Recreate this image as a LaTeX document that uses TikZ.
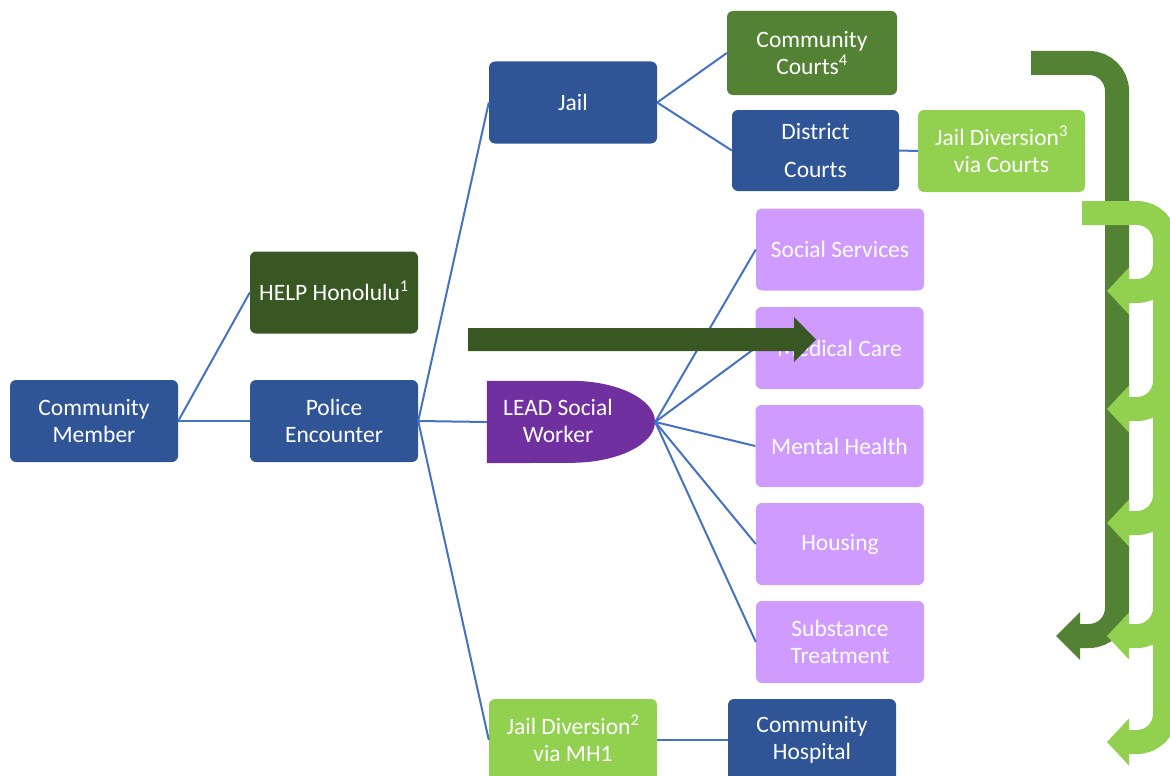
\documentclass[tikz,border=0pt]{standalone}
\usepackage{fontspec}
\setmainfont{Carlito}
\definecolor{boxblue}{HTML}{2F5597}
\definecolor{linkblue}{HTML}{4472C4}
\definecolor{darkgreen}{HTML}{385723}
\definecolor{midgreen}{HTML}{548235}
\definecolor{lightgreen}{HTML}{92D050}
\definecolor{leadpurple}{HTML}{7030A0}
\definecolor{lightpurple}{HTML}{CF9BFF}
\newcommand{\supnum}[1]{\smash{\textsuperscript{#1}}}
\begin{document}
\begin{tikzpicture}[x=1pt,y=-1pt,
  box/.style={rectangle, rounded corners=6pt, minimum width=168pt, minimum height=82pt,
    inner sep=0pt, text=white, align=center, font=\fontsize{23.5}{26.5}\selectfont},
  boxtext/.style={inner sep=0pt, text=white, align=center, font=\fontsize{23.5}{26.5}\selectfont},
  conn/.style={draw=linkblue, line width=2pt},
  band/.style={line width=24pt, rounded corners=28pt}]
\useasboundingbox (0,0) rectangle (1170,776);
\clip (0,0) rectangle (1170,776);

% nodes
\node[box, fill=boxblue] (cm) at (94,421) {Community\\Member};
\node[box, fill=darkgreen] (help) at (334,292.5) {HELP Honolulu\supnum{1}};
\node[box, fill=boxblue] (police) at (334,421) {Police\\Encounter};
\node[box, fill=boxblue] (jail) at (573,102.5) {Jail};
\node[box, fill=none] (lead) at (571,422) {};
\fill[leadpurple] (lead.north west) -- (lead.north) arc[start angle=90, end angle=-90, x radius=84pt, y radius=41pt] -- (lead.south west) -- cycle;
\node[boxtext] (leadtext) at (558,421) {LEAD Social\\Worker};
\node[box, fill=midgreen, minimum width=170pt, minimum height=84pt] (cc) at (812,53) {Community\\Courts\supnum{4}};
\node[box, fill=boxblue, minimum width=167pt, minimum height=81pt] (dc) at (815.5,150.5) {District\\[11.5pt]Courts};
\node[box, fill=lightgreen, minimum width=167pt] (jd3) at (1001.5,151) {Jail Diversion\supnum{3}\\via Courts};
\node[box, fill=lightpurple] (ss) at (840,249.5) {Social Services};
\node[box, fill=lightpurple] (mc) at (839.5,348) {Medical Care};
\node[box, fill=lightpurple] (mh) at (839.5,446) {Mental Health};
\node[box, fill=lightpurple] (hs) at (840,544) {Housing};
\node[box, fill=lightpurple] (st) at (840,642) {Substance\\Treatment};
\node[box, fill=lightgreen] (jd2) at (573,740) {Jail Diversion\supnum{2}\\via MH1};
\node[box, fill=boxblue] (ch) at (812,740) {Community\\Hospital};

% connectors
\draw[conn] (cm.east) -- (help.west);
\draw[conn] (cm.east) -- (police.west);
\draw[conn] (police.east) -- (jail.west);
\draw[conn] (police.east) -- (lead.west);
\draw[conn] (police.east) -- (jd2.west);
\draw[conn] (jail.east) -- (cc.west);
\draw[conn] (jail.east) -- (dc.west);
\draw[conn] (dc.east) -- (jd3.west);
\foreach \t in {ss,mc,mh,hs,st}{\draw[conn] (lead.east) -- (\t.west);}
\draw[conn] (jd2.east) -- (ch.west);

% big horizontal arrow
\fill[darkgreen] (468,328) -- (794,328) -- (794,317) -- (816,339.5) -- (794,362) -- (794,351) -- (468,351) -- cycle;

% dark green U arrow
\draw[band, draw=midgreen] (1031,63) -- (1117,63) -- (1117,636) -- (1080,636);
\fill[midgreen] (1080,612) -- (1056,636) -- (1080,660) -- cycle;

% light green trunk with branches
\draw[band, draw=lightgreen] (1082,213) -- (1165,213) -- (1165,742) -- (1129,742);
\fill[lightgreen] (1129,718.5) -- (1107,742) -- (1129,765.5) -- cycle;
\foreach \B in {291,409,523,636}{
  \draw[band, draw=lightgreen] (1165,\B-40) -- (1165,\B) -- (1129,\B);
  \fill[lightgreen] (1129,\B-23.5) -- (1107,\B) -- (1129,\B+23.5) -- cycle;
}
\end{tikzpicture}
\end{document}
